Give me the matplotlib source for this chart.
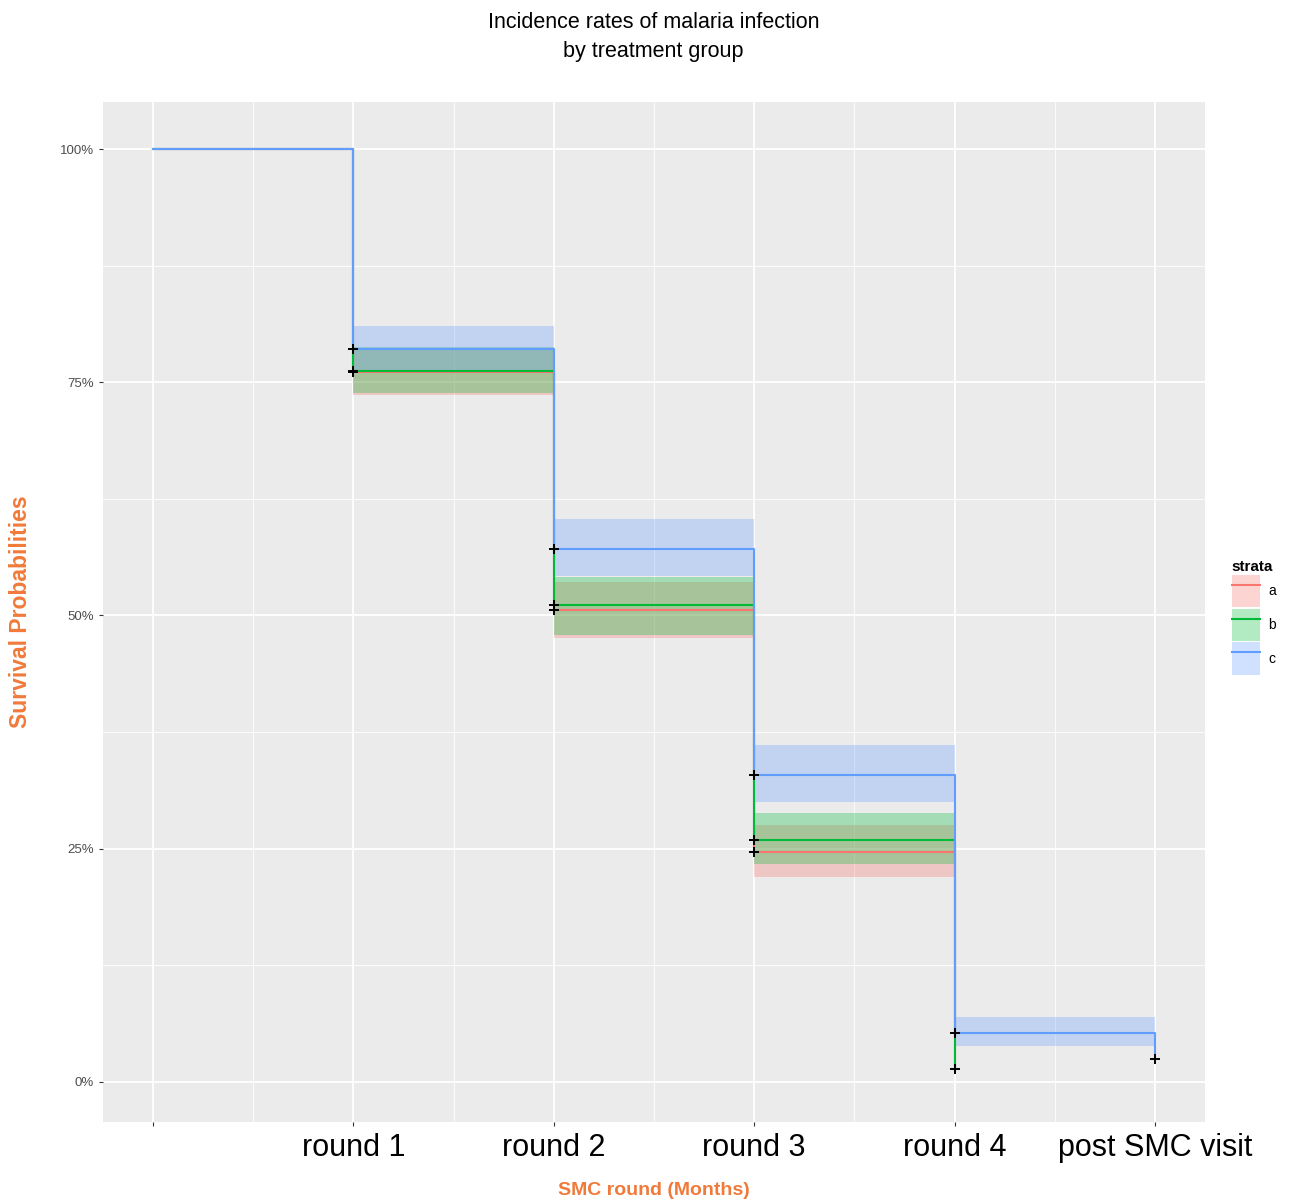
import matplotlib
matplotlib.use("Agg")
import matplotlib.pyplot as plt
from matplotlib.patches import Patch
from matplotlib.lines import Line2D
from matplotlib.ticker import FixedLocator

# ---- data ----
strata = ["a", "b", "c"]
colors = ["#F8766D", "#00BA38", "#619CFF"]
tick_labels = ["", "round 1", "round 2", "round 3", "round 4", "post SMC visit"]

times_a = [0, 1, 2, 3, 4]
surv_a = [1.0, 0.761, 0.506, 0.246, 0.014]
lo_a = [0.736, 0.476, 0.220]
hi_a = [0.787, 0.536, 0.275]

times_b = [0, 1, 2, 3, 4]
surv_b = [1.0, 0.762, 0.511, 0.259, 0.014]
lo_b = [0.738, 0.479, 0.234]
hi_b = [0.788, 0.541, 0.288]

times_c = [0, 1, 2, 3, 4, 5]
surv_c = [1.0, 0.786, 0.571, 0.329, 0.052, 0.025]
lo_c = [0.762, 0.542, 0.300, 0.039]
hi_c = [0.810, 0.603, 0.361, 0.070]

series = [
    (times_a, surv_a, lo_a, hi_a),
    (times_b, surv_b, lo_b, hi_b),
    (times_c, surv_c, lo_c, hi_c),
]

orange = "#F07A3A"
plt.rcParams["font.family"] = ["Liberation Sans", "DejaVu Sans"]

fig = plt.figure(figsize=(12.94, 12.03), dpi=100)
ax = fig.add_axes([0.0796, 0.0673, 0.8516, 0.8479])
ax.set_facecolor("#EBEBEB")
for s in ax.spines.values():
    s.set_visible(False)

ax.set_xlim(-0.25, 5.25)
ax.set_ylim(-0.043, 1.0504)

ax.xaxis.set_major_locator(FixedLocator(range(len(tick_labels))))
ax.xaxis.set_minor_locator(FixedLocator([0.5, 1.5, 2.5, 3.5, 4.5]))
ax.yaxis.set_major_locator(FixedLocator([0, 0.25, 0.5, 0.75, 1.0]))
ax.yaxis.set_minor_locator(FixedLocator([0.125, 0.375, 0.625, 0.875]))
ax.grid(which="major", color="white", linewidth=1.3)
ax.grid(which="minor", color="white", linewidth=0.6)
ax.set_axisbelow(True)

ax.set_xticklabels(tick_labels, fontsize=22, color="black")
ax.set_yticklabels(["0%", "25%", "50%", "75%", "100%"], fontsize=9.5, color="#4D4D4D")
ax.tick_params(axis="both", which="major", color="#333333", length=3, width=0.8)
ax.tick_params(axis="x", which="major", pad=5)
ax.tick_params(axis="both", which="minor", length=0)

# bands
for (t, s, lo, hi), col in zip(series, colors):
    xs = t[1:]
    ax.fill_between(xs, lo + [lo[-1]], hi + [hi[-1]], step="post",
                    color=col, alpha=0.3, linewidth=0)

# step lines
for (t, s, lo, hi), col in zip(series, colors):
    ax.step(t, s, where="post", color=col, linewidth=1.5)

# censor marks
for (t, s, lo, hi), col in zip(series, colors):
    ax.plot(t[1:], s[1:], linestyle="none", marker="+", color="black",
            markersize=7, markeredgewidth=1.4)

ax.set_xlabel("SMC round (Months)", color=orange, fontsize=14,
              fontweight="bold", va="center")
ax.xaxis.set_label_coords(0.5, -0.0667)
ax.set_ylabel("Survival Probabilities", color=orange, fontsize=16.5,
              fontweight="bold", va="center")
ax.yaxis.set_label_coords(-0.0745, 0.5)

fig.text(0.505, 0.9695, "Incidence rates of malaria infection\nby treatment group",
         ha="center", va="center", fontsize=15.5, linespacing=1.5)

handles = []
for col in colors:
    handles.append((Patch(facecolor=col, alpha=0.3, edgecolor="none"),
                    Line2D([], [], color=col, linewidth=1.5)))
leg = fig.legend(handles, strata, loc="center left", bbox_to_anchor=(0.952, 0.487),
                 title="strata", frameon=False, fontsize=10,
                 title_fontproperties={"weight": "bold", "size": 11},
                 handlelength=2.0, handleheight=3.2, labelspacing=0.1,
                 handletextpad=0.6, borderpad=0, borderaxespad=0)
leg._legend_box.align = "left"

fig.savefig("out.png", dpi=100)
